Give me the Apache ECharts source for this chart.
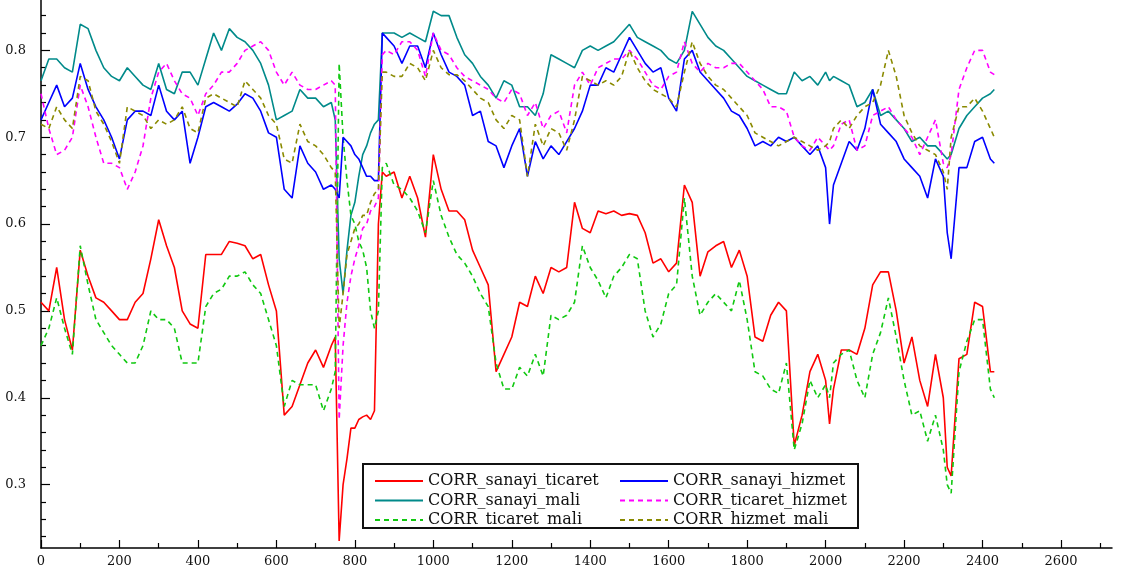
<!DOCTYPE html>
<html>
<head>
<meta charset="utf-8">
<script src="https://cdn.jsdelivr.net/npm/echarts@6/dist/echarts.min.js"></script>
<style>
  html, body { margin: 0; padding: 0; background: #fff; }
  #chart { width: 1124px; height: 578px; }
</style>
</head>
<body>
<div id="chart"></div>
<script>
// Observation index (days) shared by every rolling-correlation series
const days = [
  0,20,40,60,80,100,120,140,160,180,200,220,240,260,280,300,320,340,360,380,
  400,420,440,460,480,500,520,540,560,580,600,620,640,660,680,700,720,740,
  750,760,770,780,790,800,810,820,830,840,850,860,870,880,
  900,920,940,960,980,1000,1020,1040,1060,1080,1100,1120,1140,1160,1180,1200,
  1220,1240,1260,1280,1300,1320,1340,1360,1380,1400,1420,1440,1460,1480,1500,
  1520,1540,1560,1580,1600,1620,1640,1660,1680,1700,1720,1740,1760,1780,1800,
  1820,1840,1860,1880,1900,1920,1940,1960,1980,2000,
  2010,
  2020,2040,2060,2080,2100,2120,2140,2160,2180,2200,2220,2240,2260,2280,2300,
  2310,
  2320,2340,2360,2380,2400,2420,2430
];

const sanayiTicaret = [
  0.51,0.50,0.55,0.49,0.455,0.57,0.54,0.515,0.51,0.50,
  0.49,0.49,0.51,0.52,0.56,0.605,0.575,0.55,0.50,0.485,
  0.48,0.565,0.565,0.565,0.58,0.578,0.575,0.56,0.565,0.53,
  0.50,0.38,0.39,0.415,0.44,0.455,0.435,0.46,
  0.47,0.235,0.30,0.33,0.365,0.365,0.375,0.378,0.38,0.375,0.385,0.60,0.66,0.655,
  0.66,0.63,0.655,0.63,0.585,0.68,0.64,0.615,0.615,0.605,
  0.57,0.55,0.53,0.43,0.45,0.47,0.51,0.505,0.54,0.52,
  0.55,0.545,0.55,0.625,0.595,0.59,0.615,0.612,0.615,0.61,
  0.612,0.61,0.59,0.555,0.56,0.545,0.555,0.645,0.625,0.54,
  0.568,0.575,0.58,0.55,0.57,0.54,0.47,0.465,0.495,0.51,
  0.50,0.345,0.38,0.43,0.45,0.42,
  0.37,
  0.41,0.455,0.455,0.45,0.48,0.53,0.545,0.545,0.50,0.44,0.47,0.42,0.39,0.45,0.40,
  0.32,
  0.31,0.445,0.45,0.51,0.505,0.43,0.43
];

const sanayiMali = [
  0.765,0.79,0.79,0.78,0.775,0.83,0.825,0.80,0.78,0.77,
  0.765,0.78,0.77,0.76,0.755,0.785,0.755,0.75,0.775,0.775,
  0.76,0.79,0.82,0.80,0.825,0.815,0.81,0.80,0.785,0.76,
  0.72,0.725,0.73,0.755,0.745,0.745,0.735,0.74,
  0.72,0.56,0.52,0.57,0.61,0.625,0.655,0.68,0.69,0.705,0.715,0.72,0.82,0.82,
  0.82,0.815,0.82,0.815,0.81,0.845,0.84,0.84,0.815,0.795,
  0.785,0.77,0.76,0.745,0.765,0.76,0.735,0.735,0.725,0.75,
  0.795,0.79,0.785,0.78,0.80,0.805,0.80,0.805,0.81,0.82,
  0.83,0.815,0.81,0.805,0.80,0.79,0.785,0.80,0.845,0.83,
  0.815,0.805,0.80,0.79,0.78,0.77,0.765,0.76,0.755,0.75,
  0.75,0.775,0.765,0.77,0.76,0.775,
  0.765,
  0.77,0.765,0.76,0.735,0.74,0.755,0.725,0.73,0.72,0.71,0.695,0.70,0.69,0.69,0.68,
  0.675,
  0.68,0.71,0.725,0.735,0.745,0.75,0.755
];

const ticaretMali = [
  0.46,0.48,0.515,0.48,0.45,0.575,0.53,0.49,0.475,0.46,
  0.45,0.44,0.44,0.46,0.50,0.49,0.49,0.48,0.44,0.44,
  0.44,0.505,0.52,0.525,0.54,0.54,0.545,0.53,0.52,0.49,
  0.46,0.39,0.42,0.415,0.415,0.415,0.385,0.41,
  0.43,0.785,0.70,0.65,0.61,0.60,0.58,0.57,0.55,0.50,0.48,0.50,0.665,0.67,
  0.645,0.64,0.63,0.615,0.59,0.65,0.61,0.585,0.565,0.555,
  0.54,0.52,0.505,0.44,0.41,0.41,0.435,0.425,0.45,0.425,
  0.495,0.49,0.495,0.51,0.575,0.55,0.535,0.515,0.54,0.55,
  0.565,0.56,0.50,0.47,0.485,0.52,0.53,0.63,0.54,0.495,
  0.51,0.52,0.51,0.50,0.535,0.49,0.43,0.425,0.41,0.405,
  0.44,0.34,0.37,0.42,0.40,0.415,
  0.40,
  0.44,0.45,0.455,0.42,0.40,0.45,0.475,0.515,0.47,0.42,0.38,0.385,0.35,0.38,0.34,
  0.30,
  0.29,0.43,0.465,0.49,0.49,0.41,0.40
];

const sanayiHizmet = [
  0.72,0.74,0.76,0.735,0.745,0.785,0.755,0.735,0.72,0.70,
  0.675,0.72,0.73,0.73,0.725,0.76,0.73,0.72,0.73,0.67,
  0.70,0.735,0.74,0.735,0.73,0.738,0.75,0.745,0.73,0.705,
  0.70,0.64,0.63,0.69,0.67,0.66,0.64,0.645,
  0.64,0.63,0.70,0.695,0.69,0.68,0.675,0.665,0.655,0.655,0.65,0.65,0.82,0.815,
  0.805,0.785,0.805,0.805,0.78,0.82,0.795,0.775,0.77,0.76,
  0.725,0.73,0.695,0.69,0.665,0.69,0.71,0.655,0.695,0.675,
  0.69,0.68,0.695,0.71,0.73,0.76,0.76,0.78,0.775,0.795,
  0.815,0.80,0.785,0.775,0.78,0.745,0.73,0.79,0.80,0.775,
  0.765,0.755,0.745,0.73,0.725,0.71,0.69,0.695,0.69,0.70,
  0.695,0.70,0.69,0.68,0.69,0.665,
  0.60,
  0.645,0.67,0.695,0.685,0.71,0.755,0.715,0.705,0.695,0.675,0.665,0.655,0.63,0.675,0.655,
  0.59,
  0.56,0.665,0.665,0.695,0.70,0.675,0.67
];

const ticaretHizmet = [
  0.75,0.71,0.68,0.685,0.70,0.76,0.735,0.70,0.67,0.67,
  0.665,0.64,0.66,0.69,0.745,0.775,0.785,0.765,0.75,0.745,
  0.725,0.75,0.76,0.775,0.775,0.785,0.80,0.805,0.81,0.80,
  0.775,0.76,0.775,0.76,0.755,0.755,0.76,0.765,
  0.76,0.375,0.46,0.51,0.54,0.56,0.575,0.595,0.60,0.615,0.62,0.63,0.795,0.80,
  0.795,0.81,0.81,0.80,0.77,0.82,0.80,0.795,0.78,0.77,
  0.765,0.76,0.755,0.745,0.74,0.755,0.75,0.725,0.74,0.71,
  0.725,0.73,0.705,0.76,0.775,0.76,0.78,0.785,0.79,0.79,
  0.80,0.79,0.775,0.76,0.755,0.77,0.775,0.81,0.785,0.775,
  0.785,0.78,0.78,0.785,0.785,0.775,0.765,0.755,0.735,0.735,
  0.73,0.70,0.69,0.685,0.70,0.69,
  0.685,
  0.69,0.715,0.72,0.685,0.69,0.725,0.73,0.735,0.72,0.71,0.70,0.68,0.70,0.72,0.67,
  0.665,
  0.68,0.755,0.78,0.80,0.80,0.775,0.772
];

const hizmetMali = [
  0.715,0.71,0.735,0.72,0.71,0.77,0.765,0.73,0.715,0.695,
  0.67,0.735,0.73,0.725,0.71,0.72,0.715,0.72,0.735,0.71,
  0.705,0.745,0.75,0.745,0.74,0.735,0.765,0.755,0.745,0.725,
  0.715,0.675,0.67,0.715,0.695,0.69,0.68,0.665,
  0.66,0.48,0.52,0.565,0.58,0.595,0.60,0.61,0.61,0.625,0.635,0.64,0.775,0.775,
  0.77,0.77,0.785,0.78,0.765,0.80,0.78,0.772,0.772,0.765,
  0.755,0.745,0.74,0.72,0.71,0.725,0.72,0.655,0.715,0.69,
  0.71,0.705,0.685,0.72,0.77,0.765,0.76,0.765,0.76,0.77,
  0.80,0.78,0.765,0.755,0.75,0.745,0.735,0.775,0.81,0.785,
  0.77,0.76,0.755,0.745,0.735,0.725,0.705,0.70,0.695,0.69,
  0.695,0.70,0.695,0.69,0.685,0.69,
  0.695,
  0.71,0.72,0.71,0.725,0.735,0.74,0.76,0.80,0.77,0.725,0.705,0.69,0.685,0.68,0.66,
  0.64,
  0.70,0.735,0.735,0.745,0.73,0.71,0.70
];

// Axis tick positions
const xLabelTicks = [0,200,400,600,800,1000,1200,1400,1600,1800,2000,2200,2400,2600];
const xMinorTicks = [100,300,500,700,900,1100,1300,1500,1700,1900,2100,2300,2500,2700];
const yLabelTicks = [0.3,0.4,0.5,0.6,0.7,0.8];
const yMinorTicks = [0.24,0.26,0.28,0.32,0.34,0.36,0.38,0.42,0.44,0.46,0.48,
                     0.52,0.54,0.56,0.58,0.62,0.64,0.66,0.68,0.72,0.74,0.76,0.78,0.82,0.84];

const serif = '"DejaVu Serif", "Liberation Serif", serif';
const dashed = [5, 4];

const seriesDefs = [
  { name: 'CORR_sanayi_ticaret', values: sanayiTicaret, color: '#ff0000', type: 'solid' },
  { name: 'CORR_sanayi_mali',    values: sanayiMali,    color: '#008a8a', type: 'solid' },
  { name: 'CORR_ticaret_mali',   values: ticaretMali,   color: '#10c810', type: dashed },
  { name: 'CORR_sanayi_hizmet',  values: sanayiHizmet,  color: '#0000ff', type: 'solid' },
  { name: 'CORR_ticaret_hizmet', values: ticaretHizmet, color: '#ff00ff', type: dashed },
  { name: 'CORR_hizmet_mali',    values: hizmetMali,    color: '#8a8a00', type: dashed }
];

const chart = echarts.init(document.getElementById('chart'), null, { renderer: 'canvas' });

const xMin = 0, xMax = 2730, yMin = 0.227, yMax = 0.858;

const legendBase = {
  orient: 'vertical', top: 468, itemWidth: 48, itemHeight: 14, itemGap: 3.5,
  selectedMode: false, z: 6,
  itemStyle: { opacity: 0 },
  textStyle: { fontFamily: serif, fontSize: 16, color: '#111' }
};

const option = {
  animation: false,
  backgroundColor: '#ffffff',
  grid: { left: 41, right: 12, top: 0, bottom: 30, containLabel: false },
  xAxis: [
    {
      type: 'value', min: xMin, max: xMax, position: 'bottom',
      axisLine: { show: true, lineStyle: { color: '#000', width: 1.5 } },
      axisTick: { show: true, inside: true, length: 8, customValues: xLabelTicks,
                  lineStyle: { color: '#000', width: 1.2 } },
      axisLabel: { customValues: xLabelTicks, fontFamily: serif, fontSize: 13,
                   color: '#111', margin: 7, formatter: v => String(v) },
      splitLine: { show: false }
    },
    {
      type: 'value', min: xMin, max: xMax, position: 'bottom',
      axisLine: { show: false },
      axisTick: { show: true, inside: true, length: 5, customValues: xMinorTicks,
                  lineStyle: { color: '#000', width: 1.2 } },
      axisLabel: { show: false },
      splitLine: { show: false }
    }
  ],
  yAxis: [
    {
      type: 'value', min: yMin, max: yMax, position: 'left',
      axisLine: { show: true, lineStyle: { color: '#000', width: 1.5 } },
      axisTick: { show: true, inside: true, length: 9, customValues: yLabelTicks,
                  lineStyle: { color: '#000', width: 1.2 } },
      axisLabel: { customValues: yLabelTicks, fontFamily: serif, fontSize: 13,
                   color: '#111', margin: 15, formatter: v => String(v) },
      splitLine: { show: false }
    },
    {
      type: 'value', min: yMin, max: yMax, position: 'left',
      axisLine: { show: false },
      axisTick: { show: true, inside: true, length: 5, customValues: yMinorTicks,
                  lineStyle: { color: '#000', width: 1.2 } },
      axisLabel: { show: false },
      splitLine: { show: false }
    }
  ],
  legend: [
    Object.assign({}, legendBase, {
      left: 369,
      data: ['CORR_sanayi_ticaret', 'CORR_sanayi_mali', 'CORR_ticaret_mali']
    }),
    Object.assign({}, legendBase, {
      left: 614,
      data: ['CORR_sanayi_hizmet', 'CORR_ticaret_hizmet', 'CORR_hizmet_mali']
    })
  ],
  graphic: [
    {
      type: 'rect', left: 362, top: 463, z: 5,
      shape: { width: 495, height: 64 },
      style: { fill: '#ffffff', stroke: '#111', lineWidth: 2 }
    }
  ],
  series: seriesDefs.map(s => ({
    name: s.name,
    type: 'line',
    xAxisIndex: 0,
    yAxisIndex: 0,
    symbol: 'none',
    showSymbol: false,
    smooth: false,
    color: s.color,
    lineStyle: { color: s.color, width: 1.6, type: s.type },
    data: days.map((d, i) => [d, s.values[i]])
  }))
};

chart.setOption(option);
</script>
</body>
</html>
